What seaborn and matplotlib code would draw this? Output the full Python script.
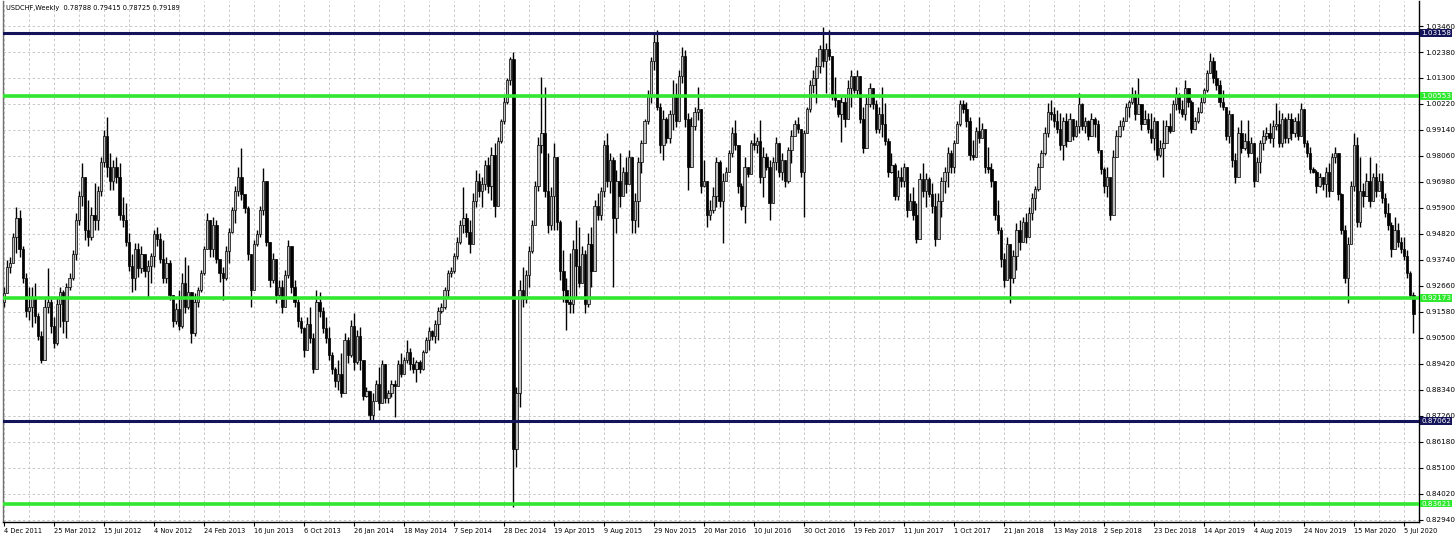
import numpy as np
import pandas as pd
import seaborn as sns
import matplotlib.pyplot as plt
import matplotlib.transforms as mtransforms
from matplotlib import font_manager

header = "USDCHF,Weekly  0.78788 0.79415 0.78725 0.79189"
first_week = "2011-12-04"
first_open = 0.9200

# weekly highs / lows / closes (Dec 2011 - Jul 2020)
highs = [
    0.9263, 0.9374, 0.9388, 0.9485, 0.9595, 0.9582, 0.9430, 0.9320, 0.9263, 0.9263,
    0.9277, 0.9152, 0.9080, 0.9210, 0.9339, 0.9210, 0.9139, 0.9222, 0.9263, 0.9250,
    0.9277, 0.9319, 0.9416, 0.9568, 0.9660, 0.9775, 0.9720, 0.9623, 0.9595, 0.9692,
    0.9680, 0.9803, 0.9914, 0.9969, 0.9817, 0.9789, 0.9803, 0.9775, 0.9637, 0.9609,
    0.9485, 0.9400, 0.9443, 0.9443, 0.9430, 0.9400, 0.9374, 0.9402, 0.9499, 0.9512,
    0.9485, 0.9457, 0.9388, 0.9374, 0.9230, 0.9194, 0.9249, 0.9319, 0.9388, 0.9353,
    0.9240, 0.9235, 0.9263, 0.9333, 0.9430, 0.9568, 0.9540, 0.9554, 0.9540, 0.9380,
    0.9346, 0.9430, 0.9506, 0.9595, 0.9680, 0.9762, 0.9838, 0.9650, 0.9600, 0.9400,
    0.9457, 0.9499, 0.9600, 0.9755, 0.9700, 0.9450, 0.9402, 0.9380, 0.9291, 0.9291,
    0.9333, 0.9457, 0.9430, 0.9291, 0.9210, 0.9139, 0.9097, 0.9139, 0.9180, 0.9069,
    0.9249, 0.9242, 0.9180, 0.9139, 0.9097, 0.8990, 0.8930, 0.8958, 0.8986, 0.9069,
    0.9055, 0.9125, 0.9152, 0.9083, 0.9097,
    0.8889, 0.8848, 0.8830, 0.8820, 0.8875, 0.8931, 0.8959, 0.8940, 0.8834, 0.8875,
    0.8875, 0.8959, 0.8986, 0.8972, 0.9042, 0.9007, 0.8972, 0.8959, 0.8959, 0.9000,
    0.9055, 0.9097, 0.9085, 0.9125, 0.9180, 0.9194, 0.9263, 0.9332, 0.9346, 0.9402,
    0.9470, 0.9540, 0.9678, 0.9568, 0.9540, 0.9651, 0.9748, 0.9734, 0.9720, 0.9789,
    0.9803, 0.9845, 0.9858, 0.9886, 0.9960, 1.0052, 1.0130, 1.0219, 1.0239, 0.8848,
    0.9291, 0.9346, 0.9332, 0.9430, 0.9540, 0.9700, 0.9886, 1.0135, 1.0094, 0.9817,
    0.9678, 0.9858, 0.9803, 0.9540, 0.9416, 0.9300, 0.9402, 0.9457, 0.9540, 0.9512,
    0.9430, 0.9416, 0.9485, 0.9512, 0.9623, 0.9651, 0.9678, 0.9872, 0.9900, 0.9817,
    0.9800, 0.9748, 0.9817, 0.9762, 0.9803, 0.9831, 0.9800, 0.9651, 0.9803, 0.9872,
    0.9960, 1.0080, 1.0219, 1.0315, 1.0329, 1.0025, 0.9997, 0.9969, 0.9997, 1.0122,
    1.0108, 1.0163, 1.0260, 1.0246, 0.9983, 0.9969, 1.0011, 1.0094, 1.0000, 0.9789,
    0.9700, 0.9623, 0.9678, 0.9803,
    0.9789, 0.9734, 0.9762, 0.9830, 0.9928, 0.9955, 0.9850, 0.9692, 0.9803, 0.9760,
    0.9872, 0.9900, 0.9886, 0.9955, 0.9845, 0.9817, 0.9789, 0.9803, 0.9886, 0.9860,
    0.9817, 0.9790, 0.9845, 0.9914, 0.9955, 0.9969, 0.9920, 0.9914, 1.0010, 1.0122,
    1.0163, 1.0219, 1.0267, 1.0343, 1.0274, 1.0329, 1.0219, 1.0135, 1.0040, 1.0052,
    1.0052, 1.0122, 1.0163, 1.0140, 1.0163, 1.0140, 1.0011, 1.0052, 1.0108, 1.0090,
    1.0039, 1.0011, 1.0094, 1.0025, 0.9880, 0.9817, 0.9775, 0.9748, 0.9762, 0.9775,
    0.9760, 0.9651, 0.9678, 0.9609, 0.9734, 0.9775, 0.9734, 0.9720, 0.9692, 0.9651,
    0.9651, 0.9720, 0.9762, 0.9845, 0.9830, 0.9872, 0.9950, 1.0039, 1.0039, 1.0030,
    0.9969, 0.9872, 0.9928, 0.9969, 0.9941, 0.9920, 0.9845, 0.9775, 0.9700, 0.9623,
    0.9510, 0.9402, 0.9471, 0.9440, 0.9416, 0.9526, 0.9540, 0.9554, 0.9568, 0.9595,
    0.9651, 0.9680, 0.9775, 0.9830, 0.9928, 1.0025, 1.0039, 1.0011, 0.9997,
    0.9983, 0.9969, 0.9983, 0.9983, 0.9960, 0.9955, 1.0066, 1.0025, 0.9969, 0.9955,
    0.9983, 0.9969, 0.9955, 0.9831, 0.9760, 0.9762, 0.9720, 0.9831, 0.9914, 0.9955,
    0.9969, 1.0025, 1.0040, 1.0094, 1.0080, 1.0128, 1.0020, 0.9997, 0.9983, 0.9983,
    0.9969, 0.9950, 0.9872, 0.9955, 0.9955, 0.9983, 1.0038, 1.0094, 1.0066, 1.0038,
    1.0122, 1.0090, 1.0038, 0.9969, 1.0011, 1.0052, 1.0090, 1.0163, 1.0232, 1.0219,
    1.0163, 1.0122, 1.0080, 1.0011, 0.9997, 0.9980, 0.9817, 0.9928, 0.9955, 0.9900,
    0.9955, 0.9886, 0.9860, 0.9803, 0.9872, 0.9914, 0.9928, 0.9942, 0.9955, 1.0025,
    0.9997, 0.9983, 0.9969, 0.9983, 0.9983, 0.9969, 0.9983, 1.0025, 1.0000, 0.9872,
    0.9845, 0.9762, 0.9748, 0.9734, 0.9720, 0.9762, 0.9775, 0.9817, 0.9845, 0.9820,
    0.9651, 0.9520, 0.9471, 0.9700, 0.9900, 0.9886, 0.9803, 0.9692, 0.9734, 0.9803,
    0.9734, 0.9775, 0.9734, 0.9734, 0.9651, 0.9609, 0.9530, 0.9554, 0.9526, 0.9468,
    0.9471, 0.9415, 0.9330, 0.9240,
]

lows = [
    0.9180, 0.9249, 0.9319, 0.9360, 0.9402, 0.9388, 0.9280, 0.9139, 0.9125, 0.9097,
    0.9111, 0.9040, 0.8945, 0.8990, 0.9152, 0.9069, 0.9007, 0.9020, 0.9097, 0.9069,
    0.9049, 0.9250, 0.9290, 0.9374, 0.9520, 0.9600, 0.9457, 0.9430, 0.9457, 0.9499,
    0.9499, 0.9640, 0.9762, 0.9720, 0.9665, 0.9665, 0.9692, 0.9540, 0.9512, 0.9430,
    0.9330, 0.9242, 0.9249, 0.9305, 0.9319, 0.9305, 0.9222, 0.9277, 0.9346, 0.9430,
    0.9360, 0.9277, 0.9277, 0.9208, 0.9097, 0.9110, 0.9083, 0.9090, 0.9152, 0.9170,
    0.9028, 0.9060, 0.9180, 0.9240, 0.9310, 0.9420, 0.9388, 0.9388, 0.9360, 0.9284,
    0.9208, 0.9290, 0.9360, 0.9485, 0.9526, 0.9640, 0.9623, 0.9568, 0.9374, 0.9180,
    0.9250, 0.9430, 0.9471, 0.9560, 0.9430, 0.9263, 0.9280, 0.9194, 0.9222, 0.9152,
    0.9180, 0.9300, 0.9235, 0.9180, 0.9097, 0.9069, 0.8972, 0.9000, 0.9028, 0.8903,
    0.8920, 0.9139, 0.9069, 0.9028, 0.8958, 0.8900, 0.8848, 0.8834, 0.8806, 0.8875,
    0.8945, 0.8970, 0.8917, 0.8940, 0.8917,
    0.8792, 0.8806, 0.8709, 0.8709, 0.8792, 0.8751, 0.8806, 0.8778, 0.8778, 0.8806,
    0.8723, 0.8850, 0.8889, 0.8900, 0.8945, 0.8917, 0.8903, 0.8868, 0.8903, 0.8917,
    0.8986, 0.9000, 0.9042, 0.9028, 0.9042, 0.9152, 0.9170, 0.9222, 0.9305, 0.9318,
    0.9380, 0.9440, 0.9485, 0.9471, 0.9402, 0.9440, 0.9595, 0.9637, 0.9595, 0.9665,
    0.9651, 0.9623, 0.9554, 0.9600, 0.9860, 0.9940, 1.0020, 1.0100, 0.8349, 0.8515,
    0.8765, 0.9180, 0.9194, 0.9263, 0.9402, 0.9520, 0.9660, 0.9817, 0.9637, 0.9485,
    0.9499, 0.9499, 0.9499, 0.9291, 0.9200, 0.9083, 0.9152, 0.9152, 0.9222, 0.9263,
    0.9291, 0.9152, 0.9180, 0.9263, 0.9374, 0.9540, 0.9540, 0.9637, 0.9678, 0.9651,
    0.9263, 0.9485, 0.9595, 0.9678, 0.9651, 0.9720, 0.9485, 0.9485, 0.9512, 0.9734,
    0.9860, 0.9940, 1.0025, 1.0163, 0.9997, 0.9817, 0.9789, 0.9858, 0.9858, 0.9914,
    0.9928, 0.9950, 1.0108, 0.9928, 0.9665, 0.9775, 0.9914, 0.9955, 0.9651, 0.9678,
    0.9512, 0.9540, 0.9568, 0.9595,
    0.9595, 0.9443, 0.9700, 0.9740, 0.9800, 0.9831, 0.9651, 0.9582, 0.9526, 0.9720,
    0.9730, 0.9831, 0.9817, 0.9692, 0.9637, 0.9748, 0.9540, 0.9610, 0.9748, 0.9720,
    0.9706, 0.9678, 0.9692, 0.9775, 0.9890, 0.9900, 0.9720, 0.9554, 0.9900, 0.9990,
    1.0066, 1.0025, 1.0150, 1.0177, 1.0066, 1.0205, 1.0039, 1.0011, 0.9969, 0.9865,
    0.9928, 0.9960, 1.0011, 1.0066, 1.0052, 0.9942, 0.9817, 0.9840, 1.0011, 1.0000,
    0.9900, 0.9900, 0.9886, 0.9850, 0.9720, 0.9734, 0.9623, 0.9623, 0.9678, 0.9678,
    0.9554, 0.9580, 0.9540, 0.9443, 0.9460, 0.9637, 0.9595, 0.9637, 0.9568, 0.9430,
    0.9460, 0.9554, 0.9651, 0.9678, 0.9734, 0.9734, 0.9858, 0.9930, 0.9983, 0.9928,
    0.9789, 0.9789, 0.9800, 0.9858, 0.9880, 0.9734, 0.9734, 0.9678, 0.9540, 0.9480,
    0.9346, 0.9263, 0.9290, 0.9194, 0.9277, 0.9332, 0.9416, 0.9450, 0.9443, 0.9470,
    0.9540, 0.9582, 0.9660, 0.9760, 0.9810, 0.9886, 0.9955, 0.9928, 0.9900,
    0.9831, 0.9789, 0.9845, 0.9872, 0.9872, 0.9886, 0.9900, 0.9914, 0.9900, 0.9872,
    0.9890, 0.9886, 0.9817, 0.9730, 0.9651, 0.9637, 0.9540, 0.9560, 0.9800, 0.9886,
    0.9914, 0.9950, 0.9969, 1.0020, 0.9955, 0.9997, 0.9914, 0.9940, 0.9900, 0.9859,
    0.9831, 0.9789, 0.9803, 0.9720, 0.9860, 0.9900, 0.9910, 0.9997, 0.9983, 0.9969,
    0.9955, 1.0011, 0.9900, 0.9920, 0.9942, 0.9983, 1.0025, 1.0070, 1.0149, 1.0108,
    1.0080, 1.0011, 0.9997, 0.9872, 0.9859, 0.9762, 0.9692, 0.9720, 0.9817, 0.9831,
    0.9803, 0.9817, 0.9679, 0.9706, 0.9734, 0.9831, 0.9872, 0.9859, 0.9845, 0.9914,
    0.9845, 0.9845, 0.9859, 0.9859, 0.9872, 0.9886, 0.9872, 0.9890, 0.9845, 0.9803,
    0.9734, 0.9734, 0.9651, 0.9679, 0.9665, 0.9637, 0.9637, 0.9660, 0.9775, 0.9623,
    0.9480, 0.9277, 0.9194, 0.9440, 0.9660, 0.9512, 0.9512, 0.9595, 0.9640, 0.9595,
    0.9623, 0.9637, 0.9660, 0.9609, 0.9554, 0.9500, 0.9388, 0.9420, 0.9429, 0.9402,
    0.9374, 0.9300, 0.9221, 0.9069,
]

closes = [
    0.9235, 0.9345, 0.9360, 0.9470, 0.9550, 0.9420, 0.9300, 0.9160, 0.9180, 0.9220,
    0.9140, 0.9060, 0.8960, 0.9180, 0.9200, 0.9100, 0.9030, 0.9190, 0.9240, 0.9120,
    0.9260, 0.9300, 0.9400, 0.9540, 0.9640, 0.9720, 0.9500, 0.9470, 0.9560, 0.9540,
    0.9660, 0.9780, 0.9890, 0.9760, 0.9700, 0.9760, 0.9720, 0.9560, 0.9540, 0.9450,
    0.9350, 0.9300, 0.9420, 0.9340, 0.9400, 0.9330, 0.9350, 0.9390, 0.9480, 0.9460,
    0.9380, 0.9300, 0.9360, 0.9230, 0.9120, 0.9170, 0.9100, 0.9280, 0.9180, 0.9240,
    0.9070, 0.9200, 0.9250, 0.9320, 0.9420, 0.9540, 0.9420, 0.9520, 0.9380, 0.9320,
    0.9300, 0.9410, 0.9490, 0.9580, 0.9660, 0.9720, 0.9650, 0.9590, 0.9400, 0.9250,
    0.9440, 0.9480, 0.9580, 0.9700, 0.9450, 0.9290, 0.9380, 0.9230, 0.9260, 0.9180,
    0.9310, 0.9430, 0.9260, 0.9200, 0.9120, 0.9090, 0.9000, 0.9110, 0.9050, 0.8920,
    0.9200, 0.9160, 0.9090, 0.9050, 0.8980, 0.8920, 0.8870, 0.8900, 0.8820, 0.9040,
    0.8980, 0.9100, 0.8950, 0.9060, 0.8960,
    0.8810, 0.8830, 0.8730, 0.8790, 0.8860, 0.8780, 0.8940, 0.8800, 0.8820, 0.8860,
    0.8850, 0.8940, 0.8900, 0.8960, 0.8990, 0.8940, 0.8920, 0.8950, 0.8920, 0.8990,
    0.9040, 0.9080, 0.9060, 0.9110, 0.9160, 0.9180, 0.9250, 0.9320, 0.9330, 0.9390,
    0.9450, 0.9520, 0.9550, 0.9490, 0.9440, 0.9620, 0.9700, 0.9660, 0.9690, 0.9770,
    0.9680, 0.9810, 0.9600, 0.9870, 0.9950, 1.0030, 1.0120, 1.0210, 0.8590, 0.8820,
    0.9250, 0.9210, 0.9310, 0.9410, 0.9520, 0.9680, 0.9850, 0.9900, 0.9660, 0.9520,
    0.9640, 0.9800, 0.9530, 0.9330, 0.9250, 0.9200, 0.9190, 0.9420, 0.9350, 0.9280,
    0.9400, 0.9190, 0.9440, 0.9330, 0.9600, 0.9560, 0.9660, 0.9850, 0.9700, 0.9790,
    0.9550, 0.9700, 0.9640, 0.9740, 0.9690, 0.9800, 0.9540, 0.9620, 0.9780, 0.9860,
    0.9950, 1.0060, 1.0200, 1.0280, 1.0010, 0.9850, 0.9960, 0.9880, 0.9980, 1.0060,
    0.9950, 1.0140, 1.0220, 0.9960, 0.9760, 0.9930, 0.9990, 1.0000, 0.9680, 0.9700,
    0.9560, 0.9580, 0.9640, 0.9780,
    0.9620, 0.9700, 0.9740, 0.9820, 0.9900, 0.9850, 0.9680, 0.9600, 0.9760, 0.9730,
    0.9860, 0.9850, 0.9870, 0.9720, 0.9800, 0.9760, 0.9610, 0.9780, 0.9860, 0.9740,
    0.9790, 0.9700, 0.9830, 0.9890, 0.9940, 0.9920, 0.9740, 0.9900, 1.0000, 1.0100,
    1.0130, 1.0180, 1.0250, 1.0200, 1.0250, 1.0220, 1.0060, 1.0040, 0.9980, 1.0030,
    0.9960, 1.0090, 1.0140, 1.0080, 1.0140, 0.9960, 0.9840, 1.0020, 1.0090, 1.0020,
    0.9920, 0.9980, 0.9940, 0.9870, 0.9740, 0.9770, 0.9640, 0.9720, 0.9700, 0.9760,
    0.9580, 0.9620, 0.9560, 0.9460, 0.9710, 0.9660, 0.9710, 0.9650, 0.9600, 0.9460,
    0.9620, 0.9700, 0.9740, 0.9820, 0.9760, 0.9860, 0.9940, 1.0020, 1.0000, 0.9950,
    0.9810, 0.9800, 0.9910, 0.9880, 0.9920, 0.9760, 0.9750, 0.9700, 0.9560, 0.9500,
    0.9380, 0.9290, 0.9440, 0.9300, 0.9390, 0.9500, 0.9450, 0.9530, 0.9470, 0.9570,
    0.9630, 0.9670, 0.9760, 0.9820, 0.9900, 0.9990, 0.9980, 0.9950, 0.9920,
    0.9850, 0.9950, 0.9870, 0.9960, 0.9890, 0.9930, 1.0020, 0.9930, 0.9950, 0.9890,
    0.9960, 0.9940, 0.9830, 0.9750, 0.9680, 0.9720, 0.9560, 0.9800, 0.9890, 0.9930,
    0.9950, 1.0010, 1.0030, 1.0060, 0.9980, 1.0020, 0.9940, 0.9960, 0.9920, 0.9880,
    0.9950, 0.9810, 0.9840, 0.9860, 0.9930, 0.9910, 1.0020, 1.0060, 1.0000, 0.9980,
    1.0090, 1.0030, 0.9920, 0.9950, 0.9990, 1.0030, 1.0080, 1.0150, 1.0200, 1.0130,
    1.0100, 1.0030, 1.0010, 0.9890, 0.9980, 0.9790, 0.9720, 0.9900, 0.9840, 0.9870,
    0.9820, 0.9860, 0.9700, 0.9780, 0.9860, 0.9890, 0.9900, 0.9880, 0.9930, 0.9940,
    0.9860, 0.9960, 0.9880, 0.9960, 0.9900, 0.9950, 0.9890, 1.0000, 0.9860, 0.9820,
    0.9750, 0.9740, 0.9680, 0.9720, 0.9690, 0.9740, 0.9660, 0.9800, 0.9820, 0.9650,
    0.9500, 0.9300, 0.9440, 0.9680, 0.9850, 0.9530, 0.9660, 0.9640, 0.9700, 0.9620,
    0.9720, 0.9660, 0.9700, 0.9630, 0.9570, 0.9520, 0.9420, 0.9500, 0.9450, 0.9420,
    0.9390, 0.9320, 0.9230, 0.9150,
]

price_ticks = [1.03460, 1.02380, 1.01300, 1.00220, 0.99140, 0.98060, 0.96980,
               0.95900, 0.94820, 0.93740, 0.92660, 0.91580, 0.90500, 0.89420,
               0.88340, 0.87260, 0.86180, 0.85100, 0.84020, 0.82940]
level_prices = [1.03158, 1.00553, 0.92173, 0.87062, 0.83621]
level_colors = ["#14145a", "#2fe82f", "#2fe82f", "#14145a", "#2fe82f"]

df = pd.DataFrame({"high": highs, "low": lows, "close": closes})
df["open"] = [first_open] + closes[:-1]
df["date"] = pd.date_range(first_week, periods=len(df), freq="W-SUN")
df["bar"] = np.arange(len(df))
df["high"] = df[["high", "open", "close"]].max(axis=1)
df["low"] = df[["low", "open", "close"]].min(axis=1)
up = df["close"] >= df["open"]

sns.set_theme(style="white")
available = {f.name for f in font_manager.fontManager.ttflist}
narrow = "Liberation Sans Narrow" in available
plt.rcParams["font.family"] = ["Liberation Sans Narrow", "DejaVu Sans"] if narrow else ["DejaVu Sans"]
fs_x = 6.4 if narrow else 4.8
fs_y = 7.0 if narrow else 5.2

fig = plt.figure(figsize=(14.56, 5.36), dpi=100)
ax = fig.add_axes([3 / 1456, 14 / 536, 1416 / 1456, 521 / 536])
ax.set_facecolor("white")

# grid
ax.set_yticks(price_ticks)
ax.set_xticks(df["bar"][::16])
ax.set_xticks(df["bar"][::8], minor=True)
grid_kw = dict(color="#c8c8c8", linestyle=(0, (2.5, 2.5)), linewidth=0.7)
ax.grid(True, which="both", axis="x", **grid_kw)
ax.grid(True, which="major", axis="y", **grid_kw)
ax.set_axisbelow(True)

# candles
ax.vlines(df["bar"], df["low"], df["high"], color="black", linewidth=1.0, zorder=2)
body_bottom = df[["open", "close"]].min(axis=1)
body_height = (df["close"] - df["open"]).abs().clip(lower=0.0002)
ax.bar(df["bar"], body_height, bottom=body_bottom, width=0.75,
       color=np.where(up, "#bdbdbd", "black"), edgecolor="black", linewidth=0.5, zorder=3)

# support / resistance levels
trans = mtransforms.blended_transform_factory(ax.transAxes, ax.transData)
for p, c in zip(level_prices, level_colors):
    ax.axhline(p, color=c, linewidth=2.6 if c != "#14145a" else 2.2, zorder=4)
    ax.text(1.0 + 2 / 1416, p, f"{p:.5f}", transform=trans, ha="left", va="center",
            fontsize=fs_y, color="white", zorder=6, clip_on=False,
            bbox=dict(boxstyle="square,pad=0.12", fc=c, ec="none"))

ax.set_xlim(-0.3, 452.8)
ax.set_ylim(0.82853, 1.04499)

ax.yaxis.tick_right()
ax.set_yticklabels([f"{p:.5f}" for p in price_ticks])
ax.set_xticklabels([f"{d.day} {d:%b %Y}" for d in df["date"][::16]])
for lab in ax.get_xticklabels():
    lab.set_horizontalalignment("left")
ax.tick_params(axis="x", which="major", direction="out", length=3, width=0.8,
               pad=1.5, labelsize=fs_x, colors="black", bottom=True)
ax.tick_params(axis="x", which="minor", length=0)
ax.tick_params(axis="y", direction="out", length=3, width=0.8, pad=1.5,
               labelsize=fs_y, colors="black", right=True, left=False)
ax.set_xlabel("")
ax.set_ylabel("")

for side in ["bottom", "right"]:
    ax.spines[side].set_color("black")
    ax.spines[side].set_linewidth(1.0)
ax.spines["left"].set_color("#707070")
ax.spines["left"].set_linewidth(1.0)
ax.spines["top"].set_visible(False)

fig.text(6 / 1456, 1 - 8 / 536, header, ha="left", va="center", fontsize=fs_x, color="black")

fig.savefig("out.png", dpi=100, facecolor="white")
